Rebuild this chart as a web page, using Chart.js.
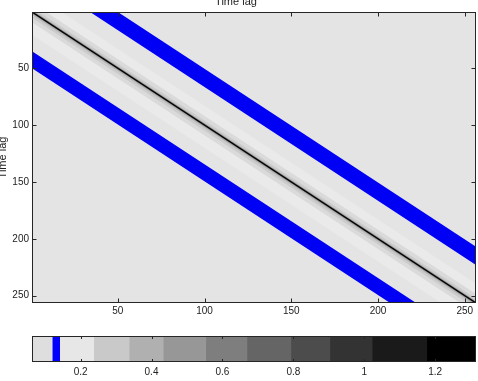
<!DOCTYPE html>
<html><head><meta charset="utf-8">
<script src="https://cdn.jsdelivr.net/npm/chart.js@4"></script>
<style>
html,body{margin:0;padding:0;background:#fff;width:478px;height:381px;overflow:hidden;position:relative}
canvas{position:absolute}
</style></head><body>
<canvas id="main" width="482" height="330" style="left:-4px;top:-5px"></canvas>
<canvas id="cb" width="478" height="55" style="left:0;top:326px"></canvas>
<script>
// ---- data ----
const axisRange = [0.5, 256.5];          // 256 x 256 time-lag matrix
const xTicks = [50, 100, 150, 200, 250];
const yTicks = [50, 100, 150, 200, 250];
const backgroundValueColor = '#e4e4e4';
// bands around the main diagonal, offset = column - row
const diagLo = [-20, -9, -5, -2.5, -1.2];
const diagHi = [17, 8, 4, 2, 1.2];
const diagColors = ['#eaeaea', '#dadada', '#cbcbcb', '#b3b3b3', '#7a7a7a'];
// blue bands, offset = column - row
const blueLo = [33.5, -49.5];
const blueHi = [49.5, -34.5];
const blueColor = '#0000f5';
// colorbar
const cbEdges = [0.063, 0.120, 0.141, 0.237, 0.337, 0.433, 0.553, 0.669, 0.793, 0.903, 1.022, 1.176, 1.315];
const cbColors = ['#dedede', '#0000ff', '#e7e7e7', '#c9c9c9', '#b0b0b0', '#979797', '#7e7e7e', '#656565', '#4c4c4c', '#333333', '#1a1a1a', '#000000'];
const cbTicks = [0.2, 0.4, 0.6, 0.8, 1, 1.2];

const FONT = "'Liberation Sans', Arial, Helvetica, sans-serif";
const TXT = '#222';

function bandPoly(lo, hi) {
  const r0 = axisRange[0] - 40, r1 = axisRange[1] + 40;
  return [{x: r0 + lo, y: r0}, {x: r1 + lo, y: r1}, {x: r1 + hi, y: r1}, {x: r0 + hi, y: r0}, {x: r0 + lo, y: r0}];
}

const boxPlugin = {
  id: 'box',
  beforeDatasetsDraw(chart, args, o) {
    if (!o.bg) return;
    const a = chart.chartArea, c = chart.ctx;
    c.save(); c.fillStyle = o.bg;
    c.fillRect(a.left, a.top, a.right - a.left, a.bottom - a.top);
    c.restore();
  },
  afterDatasetsDraw(chart, args, o) {
    const a = chart.chartArea, c = chart.ctx;
    c.save(); c.strokeStyle = o.color; c.lineWidth = 1; c.beginPath();
    (o.xTicks || []).forEach(v => {
      const px = Math.round(chart.scales.x.getPixelForValue(v)) + 0.5;
      c.moveTo(px, a.top); c.lineTo(px, a.top + o.len);
      c.moveTo(px, a.bottom); c.lineTo(px, a.bottom - o.len);
    });
    (o.yTicks || []).forEach(v => {
      const py = Math.round(chart.scales.y.getPixelForValue(v)) + 0.5;
      c.moveTo(a.left, py); c.lineTo(a.left + o.len, py);
      c.moveTo(a.right, py); c.lineTo(a.right - o.len, py);
    });
    c.stroke();
    c.strokeRect(Math.round(a.left) + 0.5, Math.round(a.top) + 0.5, Math.round(a.right - a.left) - 1, Math.round(a.bottom - a.top) - 1);
    c.restore();
  }
};

const datasets = [];
let ord = 100;
for (let i = 0; i < diagLo.length; i++) {
  datasets.push({data: bandPoly(diagLo[i], diagHi[i]), showLine: true, fill: 'shape', backgroundColor: diagColors[i],
    borderWidth: 0, pointRadius: 0, tension: 0, order: ord--});
}
for (let i = 0; i < blueLo.length; i++) {
  datasets.push({data: bandPoly(blueLo[i], blueHi[i]), showLine: true, fill: 'shape', backgroundColor: blueColor,
    borderWidth: 0, pointRadius: 0, tension: 0, order: ord--});
}
datasets.push({data: [{x: axisRange[0] - 40, y: axisRange[0] - 40}, {x: axisRange[1] + 40, y: axisRange[1] + 40}],
  showLine: true, fill: false, borderColor: '#000', borderWidth: 1.3, pointRadius: 0, order: ord--});

new Chart(document.getElementById('main'), {
  type: 'scatter',
  data: {datasets},
  options: {
    responsive: false, animation: false, events: [],
    layout: {padding: {left: 0, right: 2, top: 0, bottom: 0}},
    plugins: {
      legend: {display: false}, tooltip: {enabled: false},
      title: {display: true, text: 'Time lag', color: TXT, font: {family: FONT, size: 11, weight: 'normal'}, padding: {top: 0, bottom: 3.8}},
      box: {bg: backgroundValueColor, color: '#262626', len: 4.5, xTicks, yTicks}
    },
    scales: {
      x: {type: 'linear', min: axisRange[0], max: axisRange[1],
        afterBuildTicks: s => { s.ticks = xTicks.map(v => ({value: v})); },
        afterFit: s => { s.height = 22; },
        grid: {display: false, drawTicks: false}, border: {display: false},
        ticks: {autoSkip: false, maxRotation: 0, minRotation: 0, padding: 2.5, color: TXT, font: {family: FONT, size: 10}}},
      y: {type: 'linear', reverse: true, min: axisRange[0], max: axisRange[1],
        afterBuildTicks: s => { s.ticks = yTicks.map(v => ({value: v})); },
        afterFit: s => { s.width = 36; },
        grid: {display: false, drawTicks: false}, border: {display: false},
        title: {display: true, text: 'Time lag', color: TXT, font: {family: FONT, size: 11}, padding: 0},
        ticks: {autoSkip: false, padding: 3, color: TXT, font: {family: FONT, size: 10}}}
    }
  },
  plugins: [boxPlugin]
});

const cbSets = cbColors.map((col, i) => ({data: [[cbEdges[i], cbEdges[i + 1]]], backgroundColor: col, borderWidth: 0,
  grouped: false, barPercentage: 1, categoryPercentage: 1}));

new Chart(document.getElementById('cb'), {
  type: 'bar',
  data: {labels: ['cb'], datasets: cbSets},
  options: {
    indexAxis: 'y', responsive: false, animation: false, events: [],
    layout: {padding: {left: 32, right: 2, top: 10, bottom: 0}},
    plugins: {legend: {display: false}, tooltip: {enabled: false},
      box: {color: '#262626', len: 3, xTicks: cbTicks}},
    scales: {
      x: {type: 'linear', min: cbEdges[0], max: cbEdges[cbEdges.length - 1],
        afterBuildTicks: s => { s.ticks = cbTicks.map(v => ({value: v})); },
        afterFit: s => { s.height = 19; },
        grid: {display: false, drawTicks: false}, border: {display: false},
        ticks: {autoSkip: false, maxRotation: 0, padding: 4, color: TXT, font: {family: FONT, size: 10}, callback: v => String(v)}},
      y: {display: false}
    }
  },
  plugins: [boxPlugin]
});
</script>
</body></html>
